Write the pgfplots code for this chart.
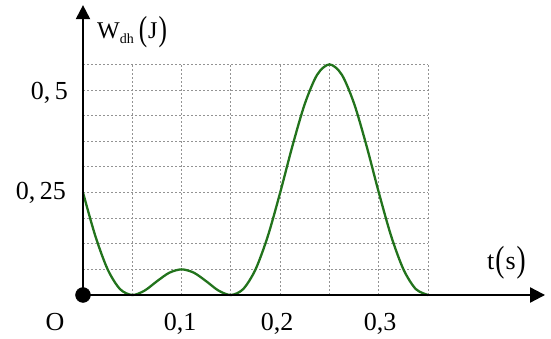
\documentclass[border=0pt]{standalone}
\usepackage{pgfplots}
\pgfplotsset{compat=1.18}
\usepackage{fontspec}
\setmainfont{Liberation Serif}
\usetikzlibrary{arrows.meta}
\definecolor{curvegreen}{RGB}{34,115,28}
\begin{document}
\begin{tikzpicture}[x=1pt,y=1pt]
\path[use as bounding box] (0,0) rectangle (551,339);
\begin{axis}[at={(83pt,44pt)}, anchor=origin, x=986pt, y=410pt,
  xmin=0, xmax=0.35, ymin=0, ymax=0.5625,
  axis line style={draw=none}, tick style={draw=none},
  xtick={0.05,0.1,0.15,0.2,0.25,0.3,0.35},
  ytick={0.0625,0.125,0.1875,0.25,0.3125,0.375,0.4375,0.5,0.5625},
  xticklabels={}, yticklabels={},
  grid=major, major grid style={gray!85, line width=0.9pt, dash pattern=on 2pt off 2pt},
  clip=false]
\addplot[smooth, color=curvegreen, line width=2.3pt] coordinates {
(0,0.25) (0.0125,0.143952) (0.025,0.0625) (0.0375,0.014542) (0.05,0)
(0.0625,0.010723) (0.075,0.033494) (0.0875,0.054272) (0.1,0.0625)
(0.1125,0.054272) (0.125,0.033494) (0.1375,0.010723) (0.15,0)
(0.1625,0.014542) (0.175,0.0625) (0.1875,0.143952) (0.2,0.25)
(0.2125,0.364277) (0.225,0.466506) (0.2375,0.537235) (0.25,0.5625)
(0.2625,0.537235) (0.275,0.466506) (0.2875,0.364277) (0.3,0.25)
(0.3125,0.143952) (0.325,0.0625) (0.3375,0.014542) (0.35,0)
};
\draw[line width=2.2pt, -{Triangle[length=15pt,width=15pt]}] (axis cs:0,0) -- (axis cs:0.4686,0);
\draw[line width=2.2pt, -{Triangle[length=14pt,width=14pt]}] (axis cs:0,0) -- (axis cs:0,0.707);
\addplot[only marks, mark=*, mark size=7.5pt, black] coordinates {(0,0)};
\end{axis}
\fontsize{26}{30}\selectfont
\node[anchor=base west, inner sep=0pt] at (97,300) {\fontsize{24}{28}\selectfont W\raisebox{-5pt}{\fontsize{14}{16}\selectfont dh}\hspace{5pt}\raisebox{-2pt}{\scalebox{1.05}[1.45]{(}}\hspace{1pt}J\hspace{1pt}\raisebox{-2pt}{\scalebox{1.05}[1.45]{)}}};
\node[anchor=base east, inner sep=0pt] at (68,239) {0,\,5};
\node[anchor=base east, inner sep=0pt] at (66,139) {0,\,25};
\node[anchor=base, inner sep=0pt] at (55,8) {O};
\node[anchor=base, inner sep=0pt] at (180,8) {0,1};
\node[anchor=base, inner sep=0pt] at (277,8) {0,2};
\node[anchor=base, inner sep=0pt] at (380,8) {0,3};
\node[anchor=base west, inner sep=0pt] at (487,69) {t\hspace{1pt}\raisebox{-2pt}{\scalebox{1.05}[1.4]{(}}\hspace{1pt}s\hspace{1pt}\raisebox{-2pt}{\scalebox{1.05}[1.4]{)}}};
\end{tikzpicture}
\end{document}
